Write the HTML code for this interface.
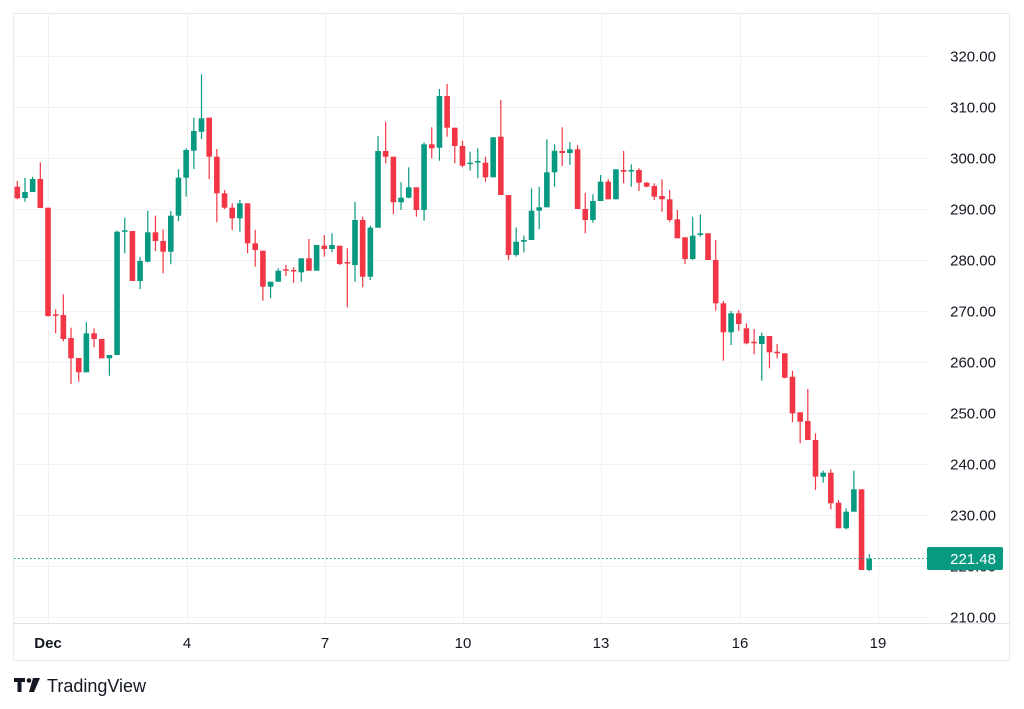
<!DOCTYPE html>
<html><head><meta charset="utf-8"><style>
html,body{margin:0;padding:0;background:#fff;width:1024px;height:709px;overflow:hidden}
svg{display:block;font-family:"Liberation Sans",sans-serif}
</style></head><body>
<svg id="s" width="1024" height="709" xmlns="http://www.w3.org/2000/svg">
<rect x="13.5" y="13.5" width="996" height="647" fill="#fff" stroke="#e9eaee"/>
<g id="grid" stroke="#f0f1f3" stroke-width="1"></g>
<line x1="13" y1="623.5" x2="1010" y2="623.5" stroke="#e0e3eb"/>
<g id="c"></g>
<line x1="14" y1="558.5" x2="928" y2="558.5" stroke="#089981" stroke-dasharray="1.5,2.5"/>
<g id="pl" font-size="15" fill="#131722" text-anchor="end"></g>
<rect x="927" y="547" width="76" height="23" rx="2" fill="#089981"/>
<text x="996" y="564" font-size="15" fill="#fff" text-anchor="end">221.48</text>
<g font-size="15" fill="#131722" text-anchor="middle">
<text x="48" y="648" font-weight="bold">Dec</text>
<text x="187" y="648">4</text><text x="325" y="648">7</text><text x="463" y="648">10</text>
<text x="601" y="648">13</text><text x="740" y="648">16</text><text x="878" y="648">19</text>
</g>
<g fill="#131722">
<path d="M14 678h11v4h-3.5v10h-4v-10h-3.5z"/>
<circle cx="29" cy="680.5" r="2.3"/>
<path d="M33 678h7l-6 14h-5z"/>
<text x="47" y="692" font-size="18">TradingView</text>
</g>
</svg>
<script>
var R="#F23645",G="#089981";
var d=[[186.7,198.3,181,199.3,R],[192,198,177.7,201.7,G],[179,192,176.7,192,G],[179,208,162.3,208,R],[207.7,316,207.7,316.7,R],[314.3,315.3,309.3,333.3,R],[315,339,294.3,341.3,R],[338,358.3,327.7,384,R],[358,372.3,358,381.7,R],[333.3,372.3,322.3,372.3,G],[333.3,339,328.3,347.3,R],[339,358.3,339,358.3,R],[355,358.3,355,375.7,G],[231.7,355,230.7,355,G],[230.3,231,217.7,253.3,G],[231,281,231,281,R],[261,281,256.7,289,G],[232.3,261.7,210.7,262.3,G],[232.3,241,215.7,251,R],[241,251.7,229.3,273.3,R],[215.7,251.7,211,264.3,G],[177.7,215.7,169.3,221,G],[150,177.7,148.3,196.7,G],[131,150.7,117.7,169,G],[118.3,131.7,74.3,139,G],[117.7,156.7,117.7,179,R],[156.7,193.3,149,222.3,R],[193.3,207.7,190,209,R],[207.7,218.3,203.3,230,R],[203.3,218.3,200,231.7,G],[203.3,243.3,203.3,253.3,R],[243.3,250,230,266.7,R],[250.7,286.7,250.7,300.7,R],[281.7,286.7,281.7,298.3,G],[270.7,281.7,268.3,281.7,G],[269.3,270.7,265,276,R],[270,271.3,267.3,282.7,R],[258.3,272.3,258.3,281.7,G],[258.3,270.7,239,270.7,R],[245,270.7,245,270.7,G],[245.7,249,235,256.7,R],[245,249,233.3,252.3,G],[245.7,264,245.7,265,R],[262,263.3,248.3,307.3,R],[220,265,201.7,281.7,G],[220,276.7,216.7,287.3,R],[227.7,276.7,225.7,280,G],[151,227.7,136,227.7,G],[151,156.7,121.7,163.3,R],[156.7,202.3,156.7,214.3,R],[197.7,202.3,182.3,210,G],[187.3,197.7,167.3,198.3,G],[187.3,210,187.3,216.7,R],[144.3,210,142.3,220.7,G],[144.3,148.3,127.3,158.3,R],[96,147.7,89,160.7,G],[96,127.7,84,136.7,R],[127.7,146,127.7,163.3,R],[146,165.7,140.7,167.3,R],[162.7,164,151.7,170.7,G],[161,162.3,148.3,178.3,G],[162.7,177.3,156.7,181.7,R],[137.3,177.3,137.3,177.3,G],[136.7,195,100,195,R],[195,255,195,260,R],[241.7,255,227.3,256.7,G],[240,241.7,235.7,252.3,G],[210.7,240,188.3,240,G],[207.3,210.7,186.7,229.3,G],[172.3,207.3,139.3,207.3,G],[150.7,172.3,144.3,186.7,G],[151,153,127.3,166,R],[149.3,153,142.3,165,G],[149.3,209,145,209,R],[209,220,192.7,233.3,R],[201,220,194.3,222.7,G],[181.7,201,175,201,G],[181.7,199.3,179.3,199.3,R],[169.3,199.3,169.3,199.3,G],[170,171.7,151,183.3,R],[170,171,164.3,186.7,G],[170,182.7,168.3,191,R],[182.7,186.7,182,187.3,R],[186,196.7,183.3,200,R],[196,199.3,179.3,211.7,R],[199.3,220,190,221.7,R],[219.3,238.3,210,238.3,R],[237.3,259,237.3,264,R],[235.7,259,216.7,260,G],[233.3,235,214.3,236.7,G],[233.3,260,233.3,260,R],[260,303.3,240,310.7,R],[303.3,332.3,301,360.7,R],[313.3,332.3,311,345,G],[313.3,324,310,331,R],[328.3,343.3,323.3,344.3,R],[341.7,343.3,329,354.3,R],[336,344,332.7,380.7,G],[336,352.3,336,368.3,R],[351.7,353.3,344,358.3,R],[353.3,377.7,353.3,378.3,R],[376.7,413.3,370.7,422.3,R],[412.3,421.7,412.3,443.3,R],[421,440,389,440,R],[440,476.7,433.3,490,R],[472.7,476.7,470.7,482.7,G],[472.7,503.3,469.3,509.3,R],[502.7,528.3,500,528.3,R],[511.7,528.3,508.3,529.3,G],[489.3,511.7,470.7,511.7,G],[489.3,570,489.3,570,R],[559,570,554.3,571,G]];
var h="";
d.forEach(function(c,i){var x=17.3+i*7.675;
h+='<line x1="'+x+'" x2="'+x+'" y1="'+c[2]+'" y2="'+c[3]+'" stroke="'+c[4]+'" stroke-width="1.2"/>';
var t=c[0],b=c[1];if(b-t<1.5){b=t+1.5;}
h+='<rect x="'+(x-2.8)+'" y="'+t+'" width="5.6" height="'+(b-t)+'" fill="'+c[4]+'"/>';});
document.getElementById("c").innerHTML=h;
var g="",p="";
for(var v=320;v>=210;v-=10){var y=56+(320-v)*5.1;g+='<line x1="14" x2="928" y1="'+(y+0.5)+'" y2="'+(y+0.5)+'"/>';
p+='<text x="996" y="'+(y+5.5)+'">'+v+'.00</text>';}
[48,187,325,463,601,740,878].forEach(function(x){g+='<line x1="'+(x+0.5)+'" x2="'+(x+0.5)+'" y1="14" y2="623"/>';});
document.getElementById("grid").innerHTML=g;
document.getElementById("pl").innerHTML=p;
</script>
</body></html>
